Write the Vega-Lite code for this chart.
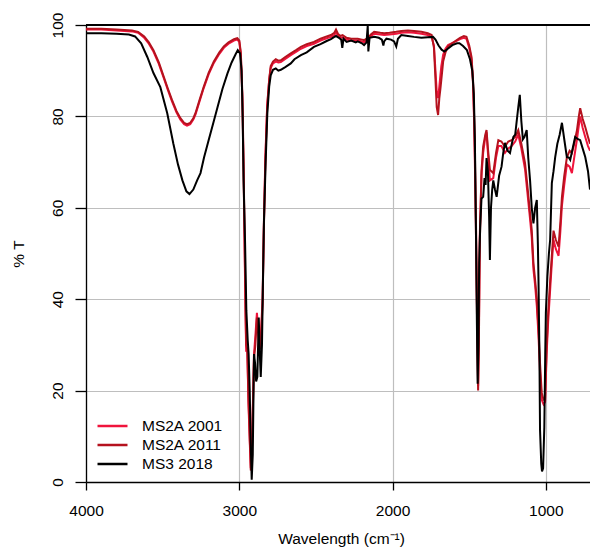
{
  "$schema": "https://vega.github.io/schema/vega-lite/v6.json",
  "width": 504,
  "height": 457,
  "autosize": {"type": "none"},
  "padding": {"left": 86, "top": 25, "right": 0, "bottom": 70},
  "background": "white",
  "config": {
    "view": {"stroke": null},
    "font": "Liberation Sans",
    "axis": {"labelFont": "Liberation Sans", "titleFont": "Liberation Sans", "labelColor": "black", "titleColor": "black", "domainColor": "black", "tickColor": "black", "gridColor": "#BEBEBE", "gridWidth": 1.2, "domainWidth": 1.3, "tickWidth": 1.3, "labelFontSize": 15.5, "titleFontSize": 15.5, "titleFontWeight": "normal"}
  },
  "datasets": {
    "spec": [
      {"s":"MS2A 2001","w":4000,"t":99.0},{"s":"MS2A 2001","w":3900,"t":99.0},{"s":"MS2A 2001","w":3800,"t":98.8},{"s":"MS2A 2001","w":3700,"t":98.6},{"s":"MS2A 2001","w":3660,"t":98.3},{"s":"MS2A 2001","w":3620,"t":97.2},{"s":"MS2A 2001","w":3590,"t":95.9},{"s":"MS2A 2001","w":3560,"t":94.2},{"s":"MS2A 2001","w":3525,"t":91.5},{"s":"MS2A 2001","w":3493,"t":88.4},{"s":"MS2A 2001","w":3465,"t":85.7},{"s":"MS2A 2001","w":3439,"t":83.3},{"s":"MS2A 2001","w":3410,"t":80.9},{"s":"MS2A 2001","w":3384,"t":79.3},{"s":"MS2A 2001","w":3360,"t":78.3},{"s":"MS2A 2001","w":3341,"t":78.0},{"s":"MS2A 2001","w":3320,"t":78.3},{"s":"MS2A 2001","w":3300,"t":79.3},{"s":"MS2A 2001","w":3286,"t":80.4},{"s":"MS2A 2001","w":3260,"t":83.2},{"s":"MS2A 2001","w":3232,"t":86.2},{"s":"MS2A 2001","w":3200,"t":89.2},{"s":"MS2A 2001","w":3166,"t":91.7},{"s":"MS2A 2001","w":3130,"t":93.7},{"s":"MS2A 2001","w":3101,"t":95.0},{"s":"MS2A 2001","w":3070,"t":95.9},{"s":"MS2A 2001","w":3035,"t":96.6},{"s":"MS2A 2001","w":3013,"t":96.8},{"s":"MS2A 2001","w":3000,"t":96.3},{"s":"MS2A 2001","w":2990,"t":93.5},{"s":"MS2A 2001","w":2980,"t":84.0},{"s":"MS2A 2001","w":2972,"t":68.0},{"s":"MS2A 2001","w":2964,"t":48.0},{"s":"MS2A 2001","w":2959,"t":36.0},{"s":"MS2A 2001","w":2955,"t":28.5},{"s":"MS2A 2001","w":2948,"t":29.5},{"s":"MS2A 2001","w":2940,"t":17.0},{"s":"MS2A 2001","w":2932,"t":9.0},{"s":"MS2A 2001","w":2925,"t":3.0},{"s":"MS2A 2001","w":2918,"t":7.0},{"s":"MS2A 2001","w":2910,"t":19.0},{"s":"MS2A 2001","w":2904,"t":28.0},{"s":"MS2A 2001","w":2895,"t":32.0},{"s":"MS2A 2001","w":2885,"t":37.0},{"s":"MS2A 2001","w":2878,"t":34.0},{"s":"MS2A 2001","w":2870,"t":31.0},{"s":"MS2A 2001","w":2862,"t":30.0},{"s":"MS2A 2001","w":2855,"t":35.0},{"s":"MS2A 2001","w":2848,"t":40.0},{"s":"MS2A 2001","w":2840,"t":56.0},{"s":"MS2A 2001","w":2830,"t":71.0},{"s":"MS2A 2001","w":2818,"t":82.5},{"s":"MS2A 2001","w":2805,"t":88.0},{"s":"MS2A 2001","w":2795,"t":90.6},{"s":"MS2A 2001","w":2780,"t":91.6},{"s":"MS2A 2001","w":2762,"t":92.0},{"s":"MS2A 2001","w":2745,"t":91.8},{"s":"MS2A 2001","w":2729,"t":91.9},{"s":"MS2A 2001","w":2700,"t":92.6},{"s":"MS2A 2001","w":2664,"t":93.4},{"s":"MS2A 2001","w":2630,"t":94.1},{"s":"MS2A 2001","w":2598,"t":94.8},{"s":"MS2A 2001","w":2560,"t":95.4},{"s":"MS2A 2001","w":2513,"t":95.9},{"s":"MS2A 2001","w":2470,"t":96.6},{"s":"MS2A 2001","w":2430,"t":97.1},{"s":"MS2A 2001","w":2402,"t":97.4},{"s":"MS2A 2001","w":2380,"t":97.8},{"s":"MS2A 2001","w":2369,"t":98.4},{"s":"MS2A 2001","w":2355,"t":97.6},{"s":"MS2A 2001","w":2340,"t":97.2},{"s":"MS2A 2001","w":2326,"t":97.3},{"s":"MS2A 2001","w":2300,"t":96.8},{"s":"MS2A 2001","w":2270,"t":96.6},{"s":"MS2A 2001","w":2227,"t":96.6},{"s":"MS2A 2001","w":2200,"t":96.4},{"s":"MS2A 2001","w":2186,"t":96.2},{"s":"MS2A 2001","w":2160,"t":96.8},{"s":"MS2A 2001","w":2140,"t":97.6},{"s":"MS2A 2001","w":2120,"t":98.1},{"s":"MS2A 2001","w":2080,"t":97.9},{"s":"MS2A 2001","w":2055,"t":97.8},{"s":"MS2A 2001","w":2020,"t":97.9},{"s":"MS2A 2001","w":1976,"t":98.1},{"s":"MS2A 2001","w":1943,"t":98.3},{"s":"MS2A 2001","w":1900,"t":98.4},{"s":"MS2A 2001","w":1860,"t":98.3},{"s":"MS2A 2001","w":1812,"t":98.1},{"s":"MS2A 2001","w":1770,"t":97.8},{"s":"MS2A 2001","w":1745,"t":97.3},{"s":"MS2A 2001","w":1730,"t":95.5},{"s":"MS2A 2001","w":1720,"t":90.0},{"s":"MS2A 2001","w":1712,"t":85.5},{"s":"MS2A 2001","w":1703,"t":84.0},{"s":"MS2A 2001","w":1695,"t":86.5},{"s":"MS2A 2001","w":1688,"t":89.0},{"s":"MS2A 2001","w":1682,"t":91.0},{"s":"MS2A 2001","w":1670,"t":93.5},{"s":"MS2A 2001","w":1655,"t":94.8},{"s":"MS2A 2001","w":1638,"t":95.6},{"s":"MS2A 2001","w":1595,"t":96.3},{"s":"MS2A 2001","w":1560,"t":96.9},{"s":"MS2A 2001","w":1535,"t":97.2},{"s":"MS2A 2001","w":1518,"t":97.0},{"s":"MS2A 2001","w":1500,"t":95.0},{"s":"MS2A 2001","w":1485,"t":92.5},{"s":"MS2A 2001","w":1475,"t":87.0},{"s":"MS2A 2001","w":1468,"t":79.0},{"s":"MS2A 2001","w":1462,"t":68.0},{"s":"MS2A 2001","w":1455,"t":52.0},{"s":"MS2A 2001","w":1448,"t":33.0},{"s":"MS2A 2001","w":1442,"t":21.0},{"s":"MS2A 2001","w":1437,"t":32.0},{"s":"MS2A 2001","w":1431,"t":54.0},{"s":"MS2A 2001","w":1420,"t":67.0},{"s":"MS2A 2001","w":1409,"t":72.0},{"s":"MS2A 2001","w":1395,"t":75.5},{"s":"MS2A 2001","w":1387,"t":76.5},{"s":"MS2A 2001","w":1378,"t":72.0},{"s":"MS2A 2001","w":1365,"t":66.0},{"s":"MS2A 2001","w":1343,"t":66.5},{"s":"MS2A 2001","w":1325,"t":71.0},{"s":"MS2A 2001","w":1310,"t":73.5},{"s":"MS2A 2001","w":1290,"t":73.5},{"s":"MS2A 2001","w":1267,"t":72.0},{"s":"MS2A 2001","w":1245,"t":73.0},{"s":"MS2A 2001","w":1223,"t":73.5},{"s":"MS2A 2001","w":1200,"t":74.5},{"s":"MS2A 2001","w":1180,"t":76.0},{"s":"MS2A 2001","w":1160,"t":73.0},{"s":"MS2A 2001","w":1136,"t":68.5},{"s":"MS2A 2001","w":1115,"t":61.5},{"s":"MS2A 2001","w":1103,"t":57.5},{"s":"MS2A 2001","w":1092,"t":53.5},{"s":"MS2A 2001","w":1081,"t":46.5},{"s":"MS2A 2001","w":1070,"t":43.0},{"s":"MS2A 2001","w":1059,"t":38.5},{"s":"MS2A 2001","w":1048,"t":32.0},{"s":"MS2A 2001","w":1038,"t":24.0},{"s":"MS2A 2001","w":1027,"t":18.0},{"s":"MS2A 2001","w":1015,"t":17.0},{"s":"MS2A 2001","w":1005,"t":17.5},{"s":"MS2A 2001","w":995,"t":28.0},{"s":"MS2A 2001","w":985,"t":35.0},{"s":"MS2A 2001","w":972,"t":42.0},{"s":"MS2A 2001","w":960,"t":48.5},{"s":"MS2A 2001","w":950,"t":53.0},{"s":"MS2A 2001","w":935,"t":51.0},{"s":"MS2A 2001","w":917,"t":49.5},{"s":"MS2A 2001","w":905,"t":55.0},{"s":"MS2A 2001","w":895,"t":60.5},{"s":"MS2A 2001","w":880,"t":65.0},{"s":"MS2A 2001","w":863,"t":69.5},{"s":"MS2A 2001","w":845,"t":69.0},{"s":"MS2A 2001","w":830,"t":67.6},{"s":"MS2A 2001","w":815,"t":71.0},{"s":"MS2A 2001","w":797,"t":75.0},{"s":"MS2A 2001","w":785,"t":78.0},{"s":"MS2A 2001","w":776,"t":80.0},{"s":"MS2A 2001","w":760,"t":77.5},{"s":"MS2A 2001","w":743,"t":75.5},{"s":"MS2A 2001","w":725,"t":73.5},{"s":"MS2A 2001","w":712,"t":72.5},

      {"s":"MS2A 2011","w":4000,"t":99.2},{"s":"MS2A 2011","w":3900,"t":99.2},{"s":"MS2A 2011","w":3800,"t":99.0},{"s":"MS2A 2011","w":3700,"t":98.8},{"s":"MS2A 2011","w":3660,"t":98.5},{"s":"MS2A 2011","w":3620,"t":97.5},{"s":"MS2A 2011","w":3590,"t":96.2},{"s":"MS2A 2011","w":3560,"t":94.5},{"s":"MS2A 2011","w":3525,"t":91.8},{"s":"MS2A 2011","w":3493,"t":88.7},{"s":"MS2A 2011","w":3465,"t":86.0},{"s":"MS2A 2011","w":3439,"t":83.6},{"s":"MS2A 2011","w":3410,"t":81.2},{"s":"MS2A 2011","w":3384,"t":79.6},{"s":"MS2A 2011","w":3360,"t":78.6},{"s":"MS2A 2011","w":3341,"t":78.3},{"s":"MS2A 2011","w":3320,"t":78.6},{"s":"MS2A 2011","w":3300,"t":79.6},{"s":"MS2A 2011","w":3286,"t":80.7},{"s":"MS2A 2011","w":3260,"t":83.5},{"s":"MS2A 2011","w":3232,"t":86.5},{"s":"MS2A 2011","w":3200,"t":89.5},{"s":"MS2A 2011","w":3166,"t":92.0},{"s":"MS2A 2011","w":3130,"t":94.0},{"s":"MS2A 2011","w":3101,"t":95.3},{"s":"MS2A 2011","w":3070,"t":96.2},{"s":"MS2A 2011","w":3035,"t":96.9},{"s":"MS2A 2011","w":3013,"t":97.1},{"s":"MS2A 2011","w":3000,"t":96.6},{"s":"MS2A 2011","w":2990,"t":94.0},{"s":"MS2A 2011","w":2980,"t":85.0},{"s":"MS2A 2011","w":2972,"t":70.0},{"s":"MS2A 2011","w":2964,"t":50.0},{"s":"MS2A 2011","w":2959,"t":37.6},{"s":"MS2A 2011","w":2955,"t":30.0},{"s":"MS2A 2011","w":2948,"t":29.0},{"s":"MS2A 2011","w":2940,"t":18.0},{"s":"MS2A 2011","w":2932,"t":10.0},{"s":"MS2A 2011","w":2925,"t":2.5},{"s":"MS2A 2011","w":2918,"t":6.0},{"s":"MS2A 2011","w":2910,"t":18.0},{"s":"MS2A 2011","w":2904,"t":27.0},{"s":"MS2A 2011","w":2895,"t":30.0},{"s":"MS2A 2011","w":2885,"t":36.0},{"s":"MS2A 2011","w":2878,"t":33.0},{"s":"MS2A 2011","w":2870,"t":30.0},{"s":"MS2A 2011","w":2862,"t":29.0},{"s":"MS2A 2011","w":2855,"t":34.0},{"s":"MS2A 2011","w":2848,"t":39.0},{"s":"MS2A 2011","w":2840,"t":55.0},{"s":"MS2A 2011","w":2830,"t":70.0},{"s":"MS2A 2011","w":2818,"t":82.0},{"s":"MS2A 2011","w":2805,"t":88.0},{"s":"MS2A 2011","w":2795,"t":91.0},{"s":"MS2A 2011","w":2780,"t":92.0},{"s":"MS2A 2011","w":2762,"t":92.5},{"s":"MS2A 2011","w":2745,"t":92.2},{"s":"MS2A 2011","w":2729,"t":92.3},{"s":"MS2A 2011","w":2700,"t":93.0},{"s":"MS2A 2011","w":2664,"t":93.8},{"s":"MS2A 2011","w":2630,"t":94.5},{"s":"MS2A 2011","w":2598,"t":95.2},{"s":"MS2A 2011","w":2560,"t":95.8},{"s":"MS2A 2011","w":2513,"t":96.3},{"s":"MS2A 2011","w":2470,"t":97.0},{"s":"MS2A 2011","w":2430,"t":97.5},{"s":"MS2A 2011","w":2402,"t":97.8},{"s":"MS2A 2011","w":2380,"t":98.3},{"s":"MS2A 2011","w":2369,"t":99.0},{"s":"MS2A 2011","w":2355,"t":98.0},{"s":"MS2A 2011","w":2340,"t":97.6},{"s":"MS2A 2011","w":2326,"t":97.8},{"s":"MS2A 2011","w":2300,"t":97.2},{"s":"MS2A 2011","w":2270,"t":97.0},{"s":"MS2A 2011","w":2227,"t":97.0},{"s":"MS2A 2011","w":2200,"t":96.8},{"s":"MS2A 2011","w":2186,"t":96.7},{"s":"MS2A 2011","w":2160,"t":97.2},{"s":"MS2A 2011","w":2140,"t":98.0},{"s":"MS2A 2011","w":2120,"t":98.5},{"s":"MS2A 2011","w":2080,"t":98.3},{"s":"MS2A 2011","w":2055,"t":98.2},{"s":"MS2A 2011","w":2020,"t":98.3},{"s":"MS2A 2011","w":1976,"t":98.5},{"s":"MS2A 2011","w":1943,"t":98.7},{"s":"MS2A 2011","w":1900,"t":98.8},{"s":"MS2A 2011","w":1860,"t":98.7},{"s":"MS2A 2011","w":1812,"t":98.5},{"s":"MS2A 2011","w":1770,"t":98.2},{"s":"MS2A 2011","w":1745,"t":97.8},{"s":"MS2A 2011","w":1730,"t":95.0},{"s":"MS2A 2011","w":1720,"t":88.0},{"s":"MS2A 2011","w":1712,"t":82.0},{"s":"MS2A 2011","w":1703,"t":80.3},{"s":"MS2A 2011","w":1695,"t":84.0},{"s":"MS2A 2011","w":1688,"t":86.0},{"s":"MS2A 2011","w":1682,"t":88.0},{"s":"MS2A 2011","w":1670,"t":92.0},{"s":"MS2A 2011","w":1655,"t":94.0},{"s":"MS2A 2011","w":1638,"t":95.3},{"s":"MS2A 2011","w":1595,"t":96.4},{"s":"MS2A 2011","w":1560,"t":97.2},{"s":"MS2A 2011","w":1535,"t":97.6},{"s":"MS2A 2011","w":1518,"t":97.4},{"s":"MS2A 2011","w":1500,"t":95.5},{"s":"MS2A 2011","w":1485,"t":93.0},{"s":"MS2A 2011","w":1475,"t":88.0},{"s":"MS2A 2011","w":1468,"t":80.0},{"s":"MS2A 2011","w":1462,"t":70.0},{"s":"MS2A 2011","w":1455,"t":55.0},{"s":"MS2A 2011","w":1448,"t":35.0},{"s":"MS2A 2011","w":1442,"t":20.0},{"s":"MS2A 2011","w":1437,"t":30.0},{"s":"MS2A 2011","w":1431,"t":52.3},{"s":"MS2A 2011","w":1420,"t":68.0},{"s":"MS2A 2011","w":1409,"t":73.4},{"s":"MS2A 2011","w":1395,"t":76.0},{"s":"MS2A 2011","w":1387,"t":77.0},{"s":"MS2A 2011","w":1378,"t":73.0},{"s":"MS2A 2011","w":1365,"t":68.3},{"s":"MS2A 2011","w":1343,"t":67.6},{"s":"MS2A 2011","w":1325,"t":72.0},{"s":"MS2A 2011","w":1310,"t":74.8},{"s":"MS2A 2011","w":1290,"t":74.5},{"s":"MS2A 2011","w":1267,"t":73.4},{"s":"MS2A 2011","w":1245,"t":74.5},{"s":"MS2A 2011","w":1223,"t":74.8},{"s":"MS2A 2011","w":1200,"t":75.5},{"s":"MS2A 2011","w":1180,"t":77.0},{"s":"MS2A 2011","w":1160,"t":74.0},{"s":"MS2A 2011","w":1136,"t":69.8},{"s":"MS2A 2011","w":1115,"t":63.0},{"s":"MS2A 2011","w":1103,"t":58.8},{"s":"MS2A 2011","w":1092,"t":55.1},{"s":"MS2A 2011","w":1081,"t":47.9},{"s":"MS2A 2011","w":1070,"t":44.2},{"s":"MS2A 2011","w":1059,"t":40.0},{"s":"MS2A 2011","w":1048,"t":33.3},{"s":"MS2A 2011","w":1038,"t":26.0},{"s":"MS2A 2011","w":1027,"t":19.5},{"s":"MS2A 2011","w":1015,"t":18.0},{"s":"MS2A 2011","w":1005,"t":18.0},{"s":"MS2A 2011","w":995,"t":29.6},{"s":"MS2A 2011","w":985,"t":37.0},{"s":"MS2A 2011","w":972,"t":44.0},{"s":"MS2A 2011","w":960,"t":50.0},{"s":"MS2A 2011","w":950,"t":55.0},{"s":"MS2A 2011","w":935,"t":53.0},{"s":"MS2A 2011","w":917,"t":51.5},{"s":"MS2A 2011","w":905,"t":57.0},{"s":"MS2A 2011","w":895,"t":62.4},{"s":"MS2A 2011","w":880,"t":67.0},{"s":"MS2A 2011","w":863,"t":71.0},{"s":"MS2A 2011","w":845,"t":72.5},{"s":"MS2A 2011","w":830,"t":72.0},{"s":"MS2A 2011","w":815,"t":74.0},{"s":"MS2A 2011","w":797,"t":77.0},{"s":"MS2A 2011","w":785,"t":80.0},{"s":"MS2A 2011","w":776,"t":81.8},{"s":"MS2A 2011","w":760,"t":79.5},{"s":"MS2A 2011","w":743,"t":77.7},{"s":"MS2A 2011","w":725,"t":75.5},{"s":"MS2A 2011","w":712,"t":74.0},

      {"s":"MS3 2018","w":4000,"t":98.2},{"s":"MS3 2018","w":3900,"t":98.2},{"s":"MS3 2018","w":3800,"t":98.1},{"s":"MS3 2018","w":3720,"t":97.9},{"s":"MS3 2018","w":3680,"t":97.5},{"s":"MS3 2018","w":3640,"t":96.0},{"s":"MS3 2018","w":3600,"t":93.0},{"s":"MS3 2018","w":3560,"t":89.5},{"s":"MS3 2018","w":3515,"t":86.4},{"s":"MS3 2018","w":3470,"t":80.7},{"s":"MS3 2018","w":3430,"t":74.0},{"s":"MS3 2018","w":3400,"t":69.5},{"s":"MS3 2018","w":3371,"t":66.0},{"s":"MS3 2018","w":3345,"t":63.6},{"s":"MS3 2018","w":3325,"t":63.0},{"s":"MS3 2018","w":3300,"t":64.0},{"s":"MS3 2018","w":3275,"t":66.0},{"s":"MS3 2018","w":3253,"t":67.6},{"s":"MS3 2018","w":3230,"t":71.0},{"s":"MS3 2018","w":3200,"t":74.8},{"s":"MS3 2018","w":3170,"t":78.5},{"s":"MS3 2018","w":3142,"t":82.0},{"s":"MS3 2018","w":3110,"t":86.0},{"s":"MS3 2018","w":3077,"t":89.4},{"s":"MS3 2018","w":3050,"t":91.8},{"s":"MS3 2018","w":3024,"t":93.6},{"s":"MS3 2018","w":3010,"t":94.5},{"s":"MS3 2018","w":2995,"t":93.8},{"s":"MS3 2018","w":2985,"t":90.0},{"s":"MS3 2018","w":2978,"t":80.0},{"s":"MS3 2018","w":2972,"t":66.0},{"s":"MS3 2018","w":2962,"t":52.0},{"s":"MS3 2018","w":2954,"t":37.6},{"s":"MS3 2018","w":2945,"t":31.0},{"s":"MS3 2018","w":2939,"t":28.0},{"s":"MS3 2018","w":2932,"t":20.0},{"s":"MS3 2018","w":2925,"t":8.0},{"s":"MS3 2018","w":2919,"t":0.5},{"s":"MS3 2018","w":2912,"t":6.0},{"s":"MS3 2018","w":2904,"t":28.0},{"s":"MS3 2018","w":2897,"t":26.0},{"s":"MS3 2018","w":2890,"t":22.0},{"s":"MS3 2018","w":2882,"t":23.0},{"s":"MS3 2018","w":2873,"t":36.0},{"s":"MS3 2018","w":2866,"t":28.0},{"s":"MS3 2018","w":2860,"t":23.0},{"s":"MS3 2018","w":2852,"t":30.0},{"s":"MS3 2018","w":2845,"t":45.0},{"s":"MS3 2018","w":2839,"t":57.0},{"s":"MS3 2018","w":2828,"t":70.0},{"s":"MS3 2018","w":2817,"t":80.7},{"s":"MS3 2018","w":2805,"t":86.5},{"s":"MS3 2018","w":2795,"t":89.0},{"s":"MS3 2018","w":2780,"t":90.2},{"s":"MS3 2018","w":2762,"t":90.5},{"s":"MS3 2018","w":2745,"t":90.0},{"s":"MS3 2018","w":2729,"t":90.2},{"s":"MS3 2018","w":2700,"t":90.8},{"s":"MS3 2018","w":2664,"t":91.6},{"s":"MS3 2018","w":2640,"t":92.5},{"s":"MS3 2018","w":2598,"t":93.4},{"s":"MS3 2018","w":2560,"t":94.0},{"s":"MS3 2018","w":2513,"t":95.2},{"s":"MS3 2018","w":2470,"t":95.8},{"s":"MS3 2018","w":2430,"t":96.5},{"s":"MS3 2018","w":2402,"t":96.9},{"s":"MS3 2018","w":2380,"t":97.4},{"s":"MS3 2018","w":2369,"t":97.6},{"s":"MS3 2018","w":2350,"t":97.2},{"s":"MS3 2018","w":2335,"t":96.8},{"s":"MS3 2018","w":2328,"t":95.0},{"s":"MS3 2018","w":2320,"t":97.0},{"s":"MS3 2018","w":2300,"t":96.3},{"s":"MS3 2018","w":2270,"t":96.6},{"s":"MS3 2018","w":2240,"t":96.2},{"s":"MS3 2018","w":2227,"t":96.4},{"s":"MS3 2018","w":2200,"t":96.0},{"s":"MS3 2018","w":2186,"t":95.6},{"s":"MS3 2018","w":2170,"t":96.2},{"s":"MS3 2018","w":2162,"t":99.8},{"s":"MS3 2018","w":2158,"t":94.2},{"s":"MS3 2018","w":2150,"t":97.2},{"s":"MS3 2018","w":2120,"t":97.4},{"s":"MS3 2018","w":2090,"t":97.2},{"s":"MS3 2018","w":2070,"t":96.8},{"s":"MS3 2018","w":2060,"t":95.5},{"s":"MS3 2018","w":2055,"t":96.4},{"s":"MS3 2018","w":2040,"t":97.0},{"s":"MS3 2018","w":2010,"t":96.8},{"s":"MS3 2018","w":1990,"t":96.4},{"s":"MS3 2018","w":1976,"t":95.3},{"s":"MS3 2018","w":1965,"t":97.0},{"s":"MS3 2018","w":1943,"t":97.8},{"s":"MS3 2018","w":1900,"t":97.6},{"s":"MS3 2018","w":1860,"t":97.4},{"s":"MS3 2018","w":1812,"t":97.2},{"s":"MS3 2018","w":1770,"t":97.3},{"s":"MS3 2018","w":1736,"t":97.4},{"s":"MS3 2018","w":1720,"t":96.8},{"s":"MS3 2018","w":1700,"t":95.5},{"s":"MS3 2018","w":1680,"t":94.6},{"s":"MS3 2018","w":1662,"t":94.2},{"s":"MS3 2018","w":1640,"t":94.8},{"s":"MS3 2018","w":1610,"t":95.6},{"s":"MS3 2018","w":1580,"t":96.0},{"s":"MS3 2018","w":1564,"t":96.0},{"s":"MS3 2018","w":1540,"t":95.4},{"s":"MS3 2018","w":1515,"t":94.5},{"s":"MS3 2018","w":1495,"t":92.5},{"s":"MS3 2018","w":1480,"t":90.0},{"s":"MS3 2018","w":1470,"t":85.0},{"s":"MS3 2018","w":1463,"t":75.0},{"s":"MS3 2018","w":1456,"t":55.0},{"s":"MS3 2018","w":1450,"t":35.0},{"s":"MS3 2018","w":1445,"t":21.5},{"s":"MS3 2018","w":1440,"t":30.0},{"s":"MS3 2018","w":1435,"t":48.0},{"s":"MS3 2018","w":1428,"t":56.0},{"s":"MS3 2018","w":1420,"t":62.0},{"s":"MS3 2018","w":1409,"t":62.4},{"s":"MS3 2018","w":1400,"t":66.5},{"s":"MS3 2018","w":1393,"t":65.0},{"s":"MS3 2018","w":1387,"t":70.9},{"s":"MS3 2018","w":1378,"t":68.0},{"s":"MS3 2018","w":1370,"t":58.0},{"s":"MS3 2018","w":1365,"t":48.6},{"s":"MS3 2018","w":1358,"t":60.0},{"s":"MS3 2018","w":1350,"t":64.0},{"s":"MS3 2018","w":1343,"t":66.0},{"s":"MS3 2018","w":1332,"t":64.0},{"s":"MS3 2018","w":1321,"t":62.4},{"s":"MS3 2018","w":1305,"t":67.0},{"s":"MS3 2018","w":1289,"t":69.0},{"s":"MS3 2018","w":1278,"t":72.0},{"s":"MS3 2018","w":1267,"t":74.2},{"s":"MS3 2018","w":1250,"t":72.5},{"s":"MS3 2018","w":1234,"t":72.0},{"s":"MS3 2018","w":1222,"t":74.0},{"s":"MS3 2018","w":1212,"t":75.5},{"s":"MS3 2018","w":1200,"t":76.0},{"s":"MS3 2018","w":1190,"t":79.0},{"s":"MS3 2018","w":1180,"t":82.0},{"s":"MS3 2018","w":1170,"t":84.7},{"s":"MS3 2018","w":1160,"t":79.0},{"s":"MS3 2018","w":1150,"t":75.0},{"s":"MS3 2018","w":1140,"t":75.5},{"s":"MS3 2018","w":1125,"t":77.0},{"s":"MS3 2018","w":1115,"t":71.0},{"s":"MS3 2018","w":1103,"t":66.0},{"s":"MS3 2018","w":1092,"t":60.0},{"s":"MS3 2018","w":1081,"t":56.6},{"s":"MS3 2018","w":1070,"t":60.0},{"s":"MS3 2018","w":1059,"t":61.7},{"s":"MS3 2018","w":1052,"t":52.0},{"s":"MS3 2018","w":1048,"t":44.2},{"s":"MS3 2018","w":1042,"t":28.0},{"s":"MS3 2018","w":1038,"t":11.4},{"s":"MS3 2018","w":1030,"t":4.0},{"s":"MS3 2018","w":1025,"t":2.3},{"s":"MS3 2018","w":1018,"t":3.0},{"s":"MS3 2018","w":1010,"t":12.0},{"s":"MS3 2018","w":1004,"t":28.0},{"s":"MS3 2018","w":1000,"t":37.0},{"s":"MS3 2018","w":990,"t":45.0},{"s":"MS3 2018","w":980,"t":50.0},{"s":"MS3 2018","w":972,"t":53.0},{"s":"MS3 2018","w":961,"t":65.4},{"s":"MS3 2018","w":950,"t":68.0},{"s":"MS3 2018","w":939,"t":71.1},{"s":"MS3 2018","w":925,"t":74.0},{"s":"MS3 2018","w":910,"t":76.0},{"s":"MS3 2018","w":895,"t":78.6},{"s":"MS3 2018","w":880,"t":75.0},{"s":"MS3 2018","w":863,"t":71.1},{"s":"MS3 2018","w":850,"t":71.0},{"s":"MS3 2018","w":841,"t":70.5},{"s":"MS3 2018","w":825,"t":73.0},{"s":"MS3 2018","w":809,"t":75.5},{"s":"MS3 2018","w":790,"t":75.0},{"s":"MS3 2018","w":776,"t":74.8},{"s":"MS3 2018","w":760,"t":73.0},{"s":"MS3 2018","w":743,"t":71.1},{"s":"MS3 2018","w":725,"t":68.0},{"s":"MS3 2018","w":712,"t":64.0}
    ]
  },
  "data": {"name": "spec"},
  "layer": [
    {
      "mark": {"type": "rule", "color": "black", "strokeWidth": 1.3},
      "encoding": {"y": {"datum": 100, "type": "quantitative", "scale": {"domain": [0, 100], "nice": false}}}
    },
    {
      "mark": {"type": "line", "strokeWidth": 2, "clip": true, "interpolate": "linear"},
      "encoding": {
        "x": {
          "field": "w", "type": "quantitative",
          "scale": {"domain": [712, 4000], "reverse": true, "nice": false, "zero": false},
          "axis": {"values": [1000, 2000, 3000, 4000], "format": "d", "grid": true, "tickSize": 8, "labelPadding": 13, "labelFlush": false, "labelOverlap": false, "title": "Wavelength (cm⁻¹)", "titleX": 255, "titleY": 61, "titleAnchor": null, "titleAlign": "center", "titleBaseline": "alphabetic"}
        },
        "y": {
          "field": "t", "type": "quantitative",
          "scale": {"domain": [0, 100], "nice": false},
          "axis": {"values": [0, 20, 40, 60, 80, 100], "format": "d", "grid": true, "tickSize": 11, "labelAngle": 270, "labelAlign": "center", "labelBaseline": "middle", "labelPadding": 18, "labelFlush": false, "labelOverlap": false, "title": "% T", "titleX": -68, "titleY": 228.5, "titleAngle": 270, "titleAlign": "center", "titleBaseline": "middle"}
        },
        "color": {
          "field": "s", "type": "nominal",
          "scale": {"domain": ["MS2A 2001", "MS2A 2011", "MS3 2018"], "range": ["#F0143C", "#B5121E", "#000000"]},
          "legend": {"title": null, "orient": "none", "legendX": 17.5, "legendY": 392, "symbolType": "M-2,0H2", "symbolSize": 225, "symbolStrokeWidth": 2.5, "labelFontSize": 15.5, "labelFont": "Liberation Sans", "labelColor": "black", "labelOffset": 20.5, "rowPadding": 1, "padding": 0}
        }
      }
    }
  ]
}
